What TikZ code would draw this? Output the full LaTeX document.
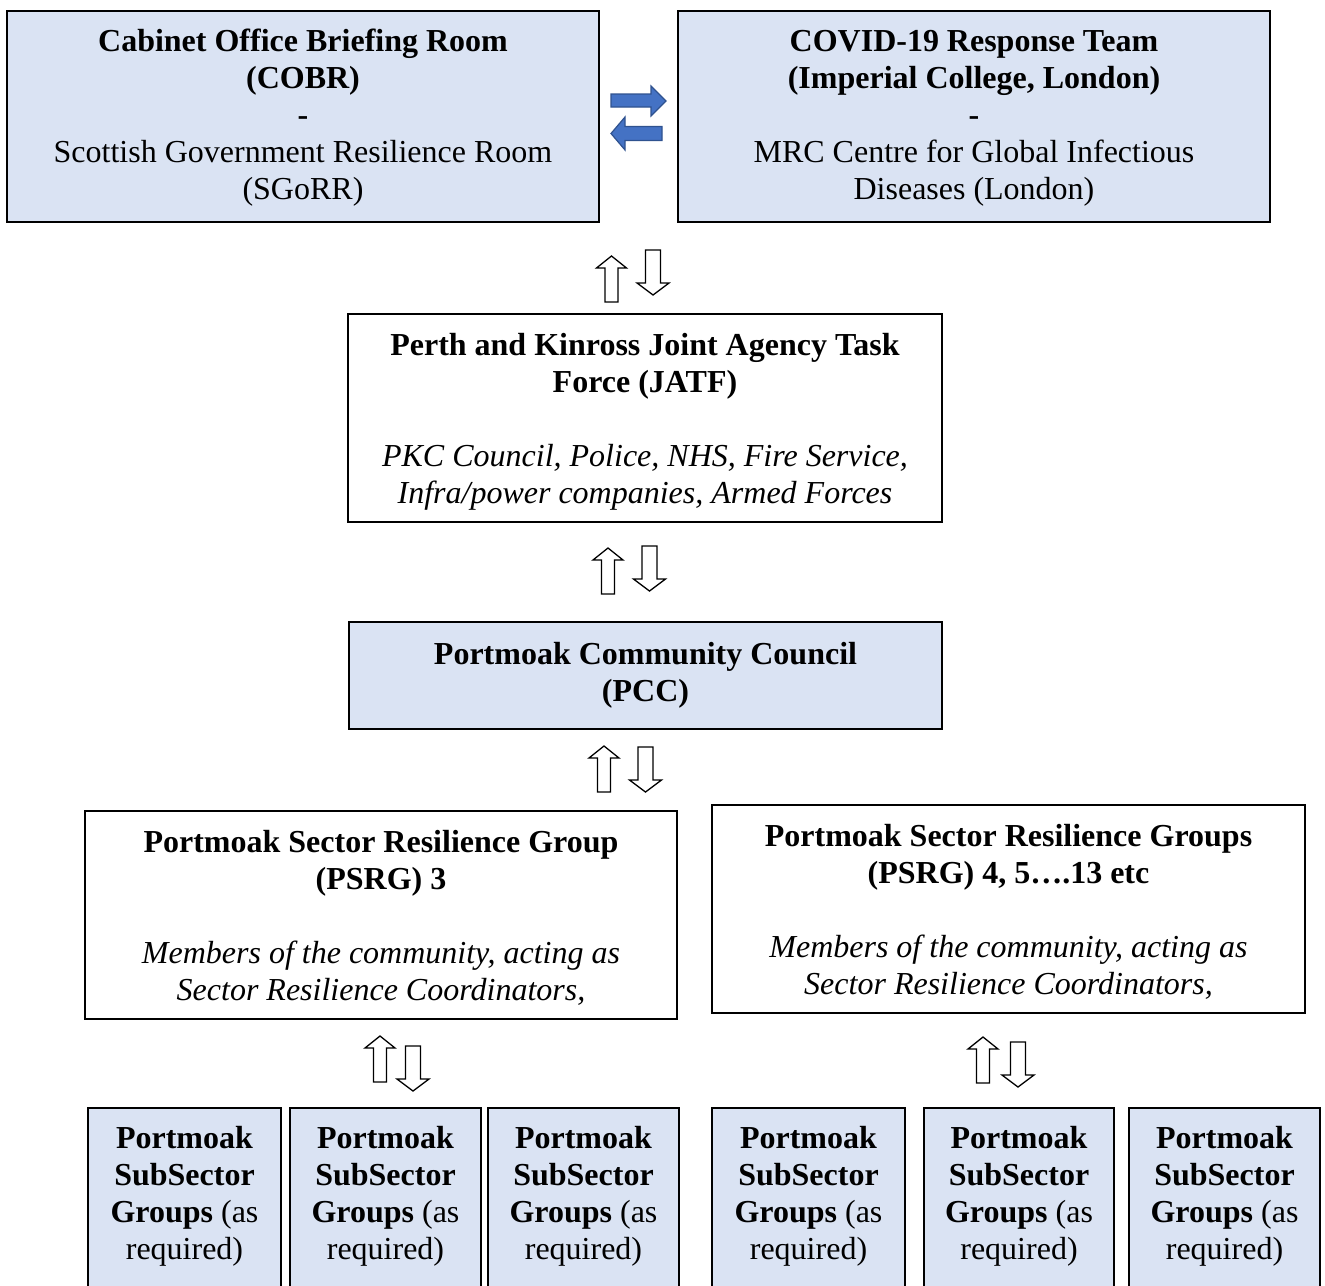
\documentclass[tikz,border=0pt]{standalone}
\usepackage{fontspec}
\setmainfont{Liberation Serif}
\definecolor{boxblue}{HTML}{DAE3F3}
\definecolor{arrblue}{HTML}{4472C4}
\definecolor{arrborder}{HTML}{2F528F}
\tikzset{
  box/.style={draw=black, line width=1.6pt, rectangle, inner sep=0pt, align=center,
    font=\fontsize{32}{37}\selectfont},
  bluebox/.style={box, fill=boxblue},
  whitebox/.style={box, fill=white},
  boxtext/.style={inner sep=0pt, align=center, font=\fontsize{32}{37}\selectfont},
  hollow/.style={draw=black, line width=1.3pt, fill=white, line join=miter},
  blockarr/.style={draw=arrborder, fill=arrblue, line width=1.2pt, line join=miter},
  uparr/.pic={\draw[hollow] (0,0) -- (15,12) -- (6.5,12) -- (6.5,46) -- (-6.5,46) -- (-6.5,12) -- (-15,12) -- cycle;},
  downarr/.pic={\draw[hollow] (0,0) -- (16,-12) -- (7.5,-12) -- (7.5,-45) -- (-7.5,-45) -- (-7.5,-12) -- (-16,-12) -- cycle;},
  subtext/.style={boxtext, anchor=north}
}
\begin{document}
\begin{tikzpicture}[x=1pt,y=-1pt]
\useasboundingbox (0,0) rectangle (1325,1285);
\clip (0,0) rectangle (1325,1285);

% top row
\node[bluebox, minimum width=592pt, minimum height=211pt] (cobr) at (303,116.5) {};
\node[boxtext] (cobrt) at ([yshift=-1.5pt]cobr.center)
  {\textbf{Cabinet Office Briefing Room}\\\textbf{(COBR)}\\\textbf{-}\\Scottish Government Resilience Room\\(SGoRR)};
\node[bluebox, minimum width=592pt, minimum height=211pt] (covid) at (974,116.5) {};
\node[boxtext] (covidt) at ([yshift=-1.5pt]covid.center)
  {\textbf{COVID-19 Response Team}\\\textbf{(Imperial College, London)}\\\textbf{-}\\MRC Centre for Global Infectious\\Diseases (London)};

% blue exchange arrows
\draw[blockarr] (611,94) -- (651,94) -- (651,86) -- (666,101) -- (651,116) -- (651,107) -- (611,107) -- cycle;
\draw[blockarr] (611,133.5) -- (625,117) -- (625,126.5) -- (662,126.5) -- (662,140.5) -- (625,140.5) -- (625,150) -- cycle;

% JATF
\node[whitebox, minimum width=594pt, minimum height=208pt] (jatf) at (645,418) {};
\node[boxtext] (jatft) at ([yshift=-3.5pt]jatf.center)
  {\textbf{Perth and Kinross Joint Agency Task}\\\textbf{Force (JATF)}\\[37pt]
   \textit{PKC Council, Police, NHS, Fire Service,}\\\textit{Infra/power companies, Armed Forces}};

% PCC
\node[bluebox, minimum width=593pt, minimum height=107pt] (pcc) at (645.5,675.5)
  {\textbf{Portmoak Community Council}\\\textbf{(PCC)}};

% PSRG
\node[whitebox, minimum width=592pt, minimum height=208pt] (psrg3) at (381,915) {};
\node[boxtext] (psrg3t) at ([yshift=-3pt]psrg3.center)
  {\textbf{Portmoak Sector Resilience Group}\\\textbf{(PSRG) 3}\\[37pt]
   \textit{Members of the community, acting as}\\\textit{Sector Resilience Coordinators,}};
\node[whitebox, minimum width=593pt, minimum height=208pt] (psrg4) at (1008.5,909) {};
\node[boxtext] (psrg4t) at ([yshift=-3pt]psrg4.center)
  {\textbf{Portmoak Sector Resilience Groups}\\\textbf{(PSRG) 4, 5….13 etc}\\[37pt]
   \textit{Members of the community, acting as}\\\textit{Sector Resilience Coordinators,}};

% hollow arrow pairs
\pic at (611.5,256) {uparr};  \pic at (653,295) {downarr};
\pic at (608,548) {uparr};    \pic at (649.5,591) {downarr};
\pic at (604,746) {uparr};    \pic at (645.5,792) {downarr};
\pic at (380,1036) {uparr};   \pic at (413,1091) {downarr};
\pic at (983,1037) {uparr};   \pic at (1018,1087) {downarr};

% subsector boxes
\foreach \n/\cx/\w in {s1/184.5/193, s2/385.5/191, s3/583.5/191, s4/808.5/193, s5/1019/190, s6/1224.5/191}{
  \node[bluebox, anchor=north, minimum width=\w pt, minimum height=240pt] (\n) at (\cx,1107) {};
  \node[subtext] (\n t) at ([yshift=-19pt]\n.north)
    {\textbf{Portmoak}\\\textbf{SubSector}\\\textbf{Groups} (as\\required)};
}
\end{tikzpicture}
\end{document}
